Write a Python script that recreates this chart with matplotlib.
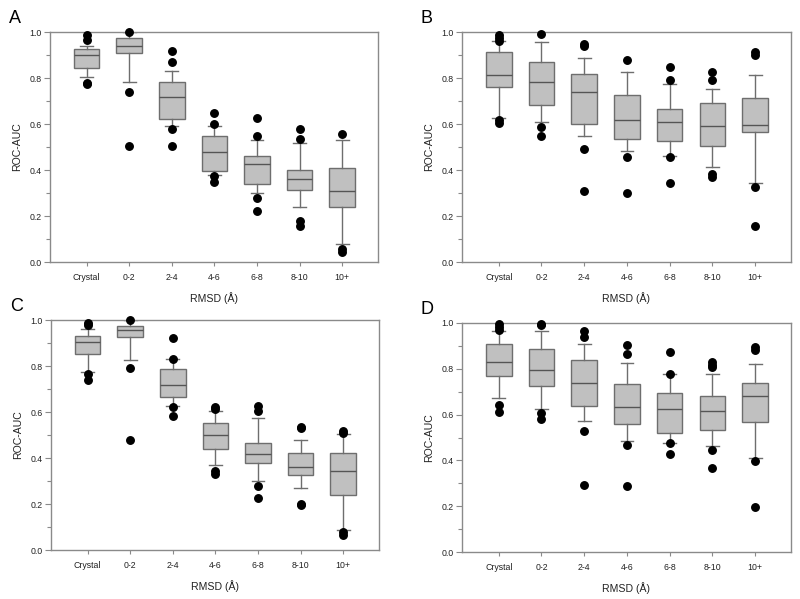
import matplotlib
matplotlib.use("Agg")
import matplotlib.pyplot as plt
from matplotlib.ticker import MultipleLocator

plt.rcParams['font.family'] = ['Liberation Sans', 'DejaVu Sans']

categories = ["Crystal", "0-2", "2-4", "4-6", "6-8", "8-10", "10+"]
yticks = [0.0, 0.2, 0.4, 0.6, 0.8, 1.0]

# Panel A
A_q1  = [0.843, 0.909, 0.623, 0.394, 0.338, 0.313, 0.238]
A_med = [0.899, 0.938, 0.717, 0.478, 0.425, 0.359, 0.309]
A_q3  = [0.925, 0.972, 0.784, 0.546, 0.461, 0.401, 0.407]
A_lo  = [0.803, 0.783, 0.591, 0.377, 0.299, 0.241, 0.077]
A_hi  = [0.938, 1.000, 0.829, 0.591, 0.530, 0.516, 0.532]
A_out = [[0.987, 0.967, 0.778, 0.772], [1.000, 0.741, 0.503],
         [0.917, 0.868, 0.580, 0.506], [0.649, 0.601, 0.374, 0.348],
         [0.625, 0.549, 0.278, 0.223], [0.580, 0.535, 0.180, 0.155],
         [0.557, 0.056, 0.045]]

# Panel B
B_q1  = [0.761, 0.684, 0.600, 0.535, 0.528, 0.503, 0.564]
B_med = [0.812, 0.781, 0.738, 0.616, 0.607, 0.591, 0.596]
B_q3  = [0.913, 0.871, 0.816, 0.726, 0.664, 0.690, 0.714]
B_lo  = [0.628, 0.607, 0.548, 0.481, 0.461, 0.412, 0.343]
B_hi  = [0.961, 0.957, 0.887, 0.826, 0.772, 0.754, 0.812]
B_out = [[0.985, 0.975, 0.962, 0.619, 0.603], [0.990, 0.587, 0.546],
         [0.946, 0.938, 0.491, 0.310], [0.878, 0.457, 0.300],
         [0.848, 0.790, 0.455, 0.342], [0.826, 0.793, 0.383, 0.371],
         [0.912, 0.899, 0.328, 0.155]]

# Panel C
C_q1  = [0.851, 0.925, 0.667, 0.439, 0.377, 0.325, 0.238]
C_med = [0.906, 0.955, 0.717, 0.499, 0.416, 0.361, 0.345]
C_q3  = [0.929, 0.975, 0.786, 0.551, 0.467, 0.420, 0.423]
C_lo  = [0.775, 0.828, 0.626, 0.368, 0.300, 0.268, 0.087]
C_hi  = [0.959, 1.000, 0.829, 0.604, 0.572, 0.477, 0.503]
C_out = [[0.988, 0.980, 0.765, 0.741], [1.000, 0.791, 0.477],
         [0.922, 0.829, 0.620, 0.581], [0.623, 0.612, 0.342, 0.330],
         [0.628, 0.604, 0.280, 0.228], [0.536, 0.530, 0.201, 0.197],
         [0.519, 0.507, 0.078, 0.065]]

# Panel D
D_q1  = [0.767, 0.723, 0.636, 0.559, 0.518, 0.534, 0.568]
D_med = [0.828, 0.793, 0.738, 0.635, 0.623, 0.616, 0.680]
D_q3  = [0.908, 0.888, 0.837, 0.732, 0.694, 0.681, 0.738]
D_lo  = [0.671, 0.626, 0.574, 0.486, 0.477, 0.463, 0.409]
D_hi  = [0.967, 0.965, 0.907, 0.827, 0.779, 0.779, 0.819]
D_out = [[0.994, 0.983, 0.969, 0.642, 0.611], [0.996, 0.991, 0.607, 0.579],
         [0.967, 0.937, 0.528, 0.291], [0.905, 0.863, 0.467, 0.288],
         [0.873, 0.779, 0.474, 0.428], [0.828, 0.817, 0.806, 0.444, 0.368],
         [0.895, 0.884, 0.399, 0.195]]

panels = [
    ("A", A_q1, A_med, A_q3, A_lo, A_hi, A_out, [50/800, 1-262/599, 328/800, 230/599]),
    ("B", B_q1, B_med, B_q3, B_lo, B_hi, B_out, [462/800, 1-262/599, 329/800, 230/599]),
    ("C", C_q1, C_med, C_q3, C_lo, C_hi, C_out, [51/800, 1-550/599, 328/800, 230/599]),
    ("D", D_q1, D_med, D_q3, D_lo, D_hi, D_out, [462/800, 1-552/599, 329/800, 229/599]),
]

edge = "#6e6e6e"
spine_c = "#8a8a8a"
text_c = "#222222"

fig = plt.figure(figsize=(8.0, 5.99), dpi=100)

for letter, q1, med, q3, lo, hi, out, rect in panels:
    ax = fig.add_axes(rect)
    stats = []
    for i in range(len(categories)):
        stats.append(dict(label=categories[i], q1=q1[i], med=med[i], q3=q3[i],
                          whislo=lo[i], whishi=hi[i], fliers=out[i]))
    res = ax.bxp(stats, positions=range(1, 8), widths=0.6, capwidths=0.3,
                 patch_artist=True, showfliers=True,
                 boxprops=dict(facecolor="#c0c0c0", edgecolor=edge, linewidth=1.0),
                 medianprops=dict(color="#555555", linewidth=1.0),
                 whiskerprops=dict(color=edge, linewidth=1.0),
                 capprops=dict(color=edge, linewidth=1.0),
                 flierprops=dict(marker="o", markerfacecolor="black",
                                 markeredgecolor="black", markersize=5.4))
    for fl in res["fliers"]:
        fl.set_clip_on(False)
        fl.set_zorder(5)
    ax.set_xlim(0.14, 7.84)
    ax.set_ylim(0.0, 1.0)
    ax.set_yticks(yticks)
    ax.set_yticklabels([f"{v:.1f}" for v in yticks])
    ax.yaxis.set_minor_locator(MultipleLocator(0.1))
    ax.set_xticks(range(1, 8))
    ax.set_xticklabels(categories)
    for s in ax.spines.values():
        s.set_color(spine_c)
        s.set_linewidth(1.0)
    ax.tick_params(axis="both", which="both", direction="out", colors=spine_c,
                   labelcolor=text_c, labelsize=6.3, width=0.8)
    ax.tick_params(axis="y", which="major", length=4, pad=2)
    ax.tick_params(axis="y", which="minor", length=3)
    ax.tick_params(axis="x", which="major", length=3, pad=5)
    ax.tick_params(top=False, right=False)
    ax.set_ylabel("ROC-AUC", fontsize=7.6, color=text_c, labelpad=5)
    ax.set_xlabel("RMSD (Å)", fontsize=7.6, color=text_c, labelpad=7)
    ax.text(-0.125, 1.022, letter, transform=ax.transAxes, fontsize=13,
            color="black", ha="left", va="bottom")

fig.savefig("out.png", dpi=100)
